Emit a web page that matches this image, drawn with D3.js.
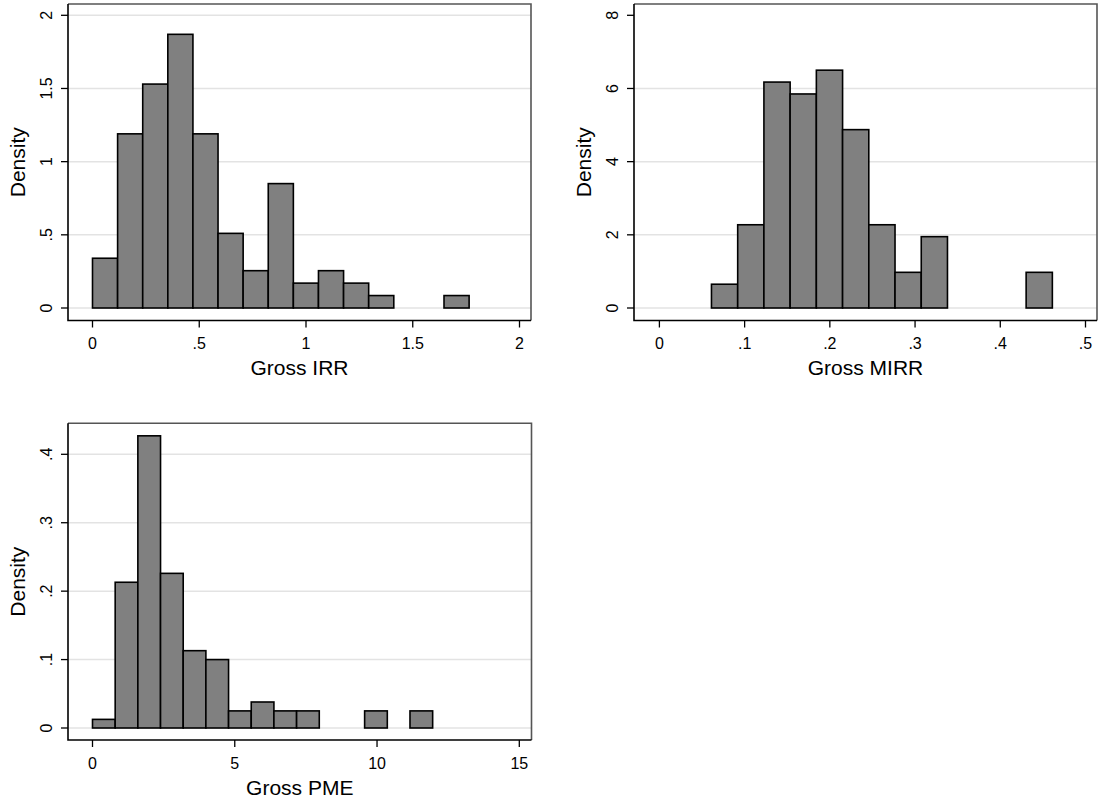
<!DOCTYPE html>
<html>
<head>
<meta charset="utf-8">
<script src="https://cdn.jsdelivr.net/npm/d3@7"></script>
<style>
  html, body { margin:0; padding:0; background:#fff; }
  svg { display:block; font-family:"Liberation Sans", Arial, Helvetica, sans-serif; }
  .grid line { stroke:#e3e3e3; stroke-width:1.5; }
  .bar { fill:#808080; stroke:#000; stroke-width:1.6; }
  .tick-lbl { font-size:16px; fill:#000; }
  .ax-title { font-size:21px; fill:#000; }
</style>
</head>
<body>
<svg id="chart" width="1099" height="802"></svg>
<script>
/* ---- data (density per bin) ---- */
const irrStart = 0, irrWidth = 0.1176;
const irrDensity = [0.34, 1.19, 1.53, 1.87, 1.19, 0.51, 0.255, 0.85, 0.17, 0.255, 0.17, 0.085, 0, 0, 0.085];
const irrXTicks = [0, 0.5, 1, 1.5, 2];
const irrYTicks = [0, 0.5, 1, 1.5, 2];

const mirrStart = 0.0611, mirrWidth = 0.03077;
const mirrDensity = [0.65, 2.275, 6.175, 5.85, 6.5, 4.875, 2.275, 0.975, 1.95, 0, 0, 0, 0.975];
const mirrXTicks = [0, 0.1, 0.2, 0.3, 0.4, 0.5];
const mirrYTicks = [0, 2, 4, 6, 8];
const mirrYGrid  = [0, 2, 4, 6];

const pmeStart = 0, pmeWidth = 0.797;
const pmeDensity = [0.0126, 0.213, 0.427, 0.226, 0.113, 0.100, 0.025, 0.038, 0.025, 0.025, 0, 0, 0.025, 0, 0.025];
const pmeXTicks = [0, 5, 10, 15];
const pmeYTicks = [0, 0.1, 0.2, 0.3, 0.4];

/* Stata style: drop leading zero (".5") */
const fmt = v => String(v).replace(/^0\./, ".");

const svg = d3.select("#chart");

function panel(cfg){
  const g = svg.append("g");
  const x = d3.scaleLinear().domain(cfg.xDom).range(cfg.xRange);
  const y = d3.scaleLinear().domain(cfg.yDom).range(cfg.yRange);
  const {left, right, top, bottom} = cfg.box;

  /* grid */
  g.append("g").attr("class","grid").selectAll("line").data(cfg.yGrid).join("line")
    .attr("x1", left).attr("x2", right)
    .attr("y1", d=>y(d)).attr("y2", d=>y(d));

  /* bars */
  const bins = cfg.density.map((d,i)=>({x0: cfg.start + i*cfg.width, x1: cfg.start + (i+1)*cfg.width, d}))
    .filter(b=>b.d>0);
  g.selectAll("rect.bar").data(bins).join("rect").attr("class","bar")
    .attr("x", b=>x(b.x0)).attr("width", b=>x(b.x1)-x(b.x0))
    .attr("y", b=>y(b.d)).attr("height", b=>y(0)-y(b.d));

  /* frame: top/right gray, axes black */
  g.append("path").attr("d", `M${left},${top}H${right}V${bottom}`)
    .attr("fill","none").attr("stroke","#555").attr("stroke-width",1.6);
  g.append("path").attr("d", `M${left},${top}V${bottom}H${right}`)
    .attr("fill","none").attr("stroke","#000").attr("stroke-width",1.6);

  /* y ticks + rotated labels */
  const yt = g.append("g");
  yt.selectAll("line").data(cfg.yTicks).join("line")
    .attr("x1", left-7).attr("x2", left).attr("y1", d=>y(d)).attr("y2", d=>y(d))
    .attr("stroke","#000").attr("stroke-width",1.3);
  yt.selectAll("text").data(cfg.yTicks).join("text").attr("class","tick-lbl")
    .attr("transform", d=>`translate(${left-22},${y(d)}) rotate(-90)`)
    .attr("text-anchor","middle").attr("dominant-baseline","central")
    .text(fmt);

  /* x ticks + labels */
  const xt = g.append("g");
  xt.selectAll("line").data(cfg.xTicks).join("line")
    .attr("x1", d=>x(d)).attr("x2", d=>x(d)).attr("y1", bottom).attr("y2", bottom+7)
    .attr("stroke","#000").attr("stroke-width",1.3);
  xt.selectAll("text").data(cfg.xTicks).join("text").attr("class","tick-lbl")
    .attr("x", d=>x(d)).attr("y", bottom+23)
    .attr("text-anchor","middle").attr("dominant-baseline","central")
    .text(fmt);

  /* titles */
  g.append("text").attr("class","ax-title")
    .attr("x", (left+right)/2).attr("y", bottom+47)
    .attr("text-anchor","middle").attr("dominant-baseline","central")
    .text(cfg.xTitle);
  g.append("text").attr("class","ax-title")
    .attr("transform", `translate(${left-51},${(top+bottom)/2}) rotate(-90)`)
    .attr("text-anchor","middle").attr("dominant-baseline","central")
    .text("Density");
}

panel({
  box:{left:68, right:531, top:4, bottom:320.5},
  xDom:[0,2], xRange:[92.5,519.5], yDom:[0,2], yRange:[308,15.3],
  start:irrStart, width:irrWidth, density:irrDensity,
  xTicks:irrXTicks, yTicks:irrYTicks, yGrid:irrYTicks, xTitle:"Gross IRR"
});
panel({
  box:{left:634, right:1097, top:4, bottom:320.5},
  xDom:[0,0.5], xRange:[659.4,1085.5], yDom:[0,8], yRange:[308,15.3],
  start:mirrStart, width:mirrWidth, density:mirrDensity,
  xTicks:mirrXTicks, yTicks:mirrYTicks, yGrid:mirrYGrid, xTitle:"Gross MIRR"
});
panel({
  box:{left:68, right:531.5, top:423.3, bottom:740},
  xDom:[0,15], xRange:[92.5,519.3], yDom:[0,0.4], yRange:[728,454.3],
  start:pmeStart, width:pmeWidth, density:pmeDensity,
  xTicks:pmeXTicks, yTicks:pmeYTicks, yGrid:pmeYTicks, xTitle:"Gross PME"
});
</script>
</body>
</html>
